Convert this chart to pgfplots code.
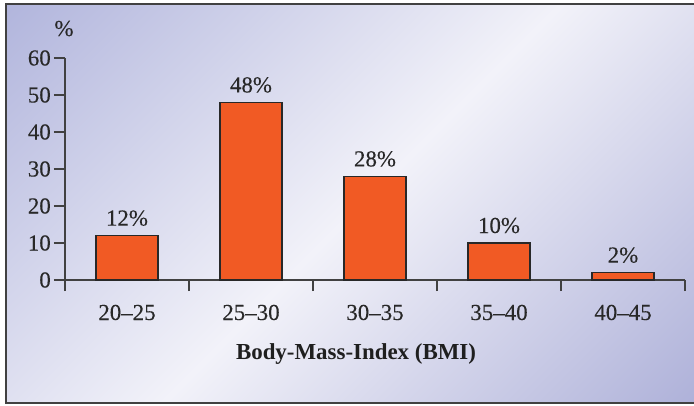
\documentclass[border=0pt]{standalone}
\usepackage{pgfplots}
\pgfplotsset{compat=1.18}
\usepackage{fontspec}
\setmainfont{Liberation Serif}
\newfontfamily\lbl{Liberation Serif}[FakeBold=0.2]

\definecolor{bgA}{RGB}{176,180,220}
\definecolor{bgW}{RGB}{242,242,249}
\definecolor{bgB}{RGB}{170,173,215}
\definecolor{barfill}{RGB}{241,90,36}
\definecolor{txt}{RGB}{40,40,40}
\definecolor{axcol}{RGB}{65,65,65}

\pgfdeclareverticalshading{bgshade}{100bp}{color(0bp)=(bgB); color(25bp)=(bgB); color(50bp)=(bgW); color(75bp)=(bgA); color(100bp)=(bgA)}

\begin{document}
\begin{tikzpicture}[x=1bp,y=1bp]
\useasboundingbox (0,0) rectangle (694,405);
% background panel, diagonal gradient
\begin{scope}
  \clip (6,2) rectangle (700,401);
  \begin{scope}[transform canvas={rotate around={45:(361,200)}}]
    \shade[shading=bgshade] (-39,-200) rectangle (761,600);
  \end{scope}
\end{scope}
\draw[axcol, line width=1.3bp] (700,2) -- (6,2) -- (6,401) -- (700,401);

\begin{axis}[
    at={(65bp,125bp)}, anchor=south west,
    scale only axis,
    width=620bp, height=222bp,
    xmin=-0.5, xmax=4.5,
    ymin=0, ymax=60,
    axis x line*=bottom,
    axis y line*=left,
    axis line style={axcol, line width=1.4bp},
    every tick/.style={axcol, line width=1.4bp},
    tick align=outside,
    major tick length=11bp,
    xtick={-0.5,0.5,...,4.5},
    xticklabels={},
    extra x ticks={0,1,2,3,4},
    extra x tick labels={20–25,25–30,30–35,35–40,40–45},
    extra x tick style={major tick length=0pt,
        xticklabel style={anchor=base, yshift=-40bp}},
    ytick={0,10,...,60},
    yticklabel style={inner sep=3bp},
    tick label style={font=\lbl\fontsize{23}{27}\selectfont, text=txt},
    /pgf/number format/assume math mode=true,
    ybar, bar width=62bp,
    clip=false,
    nodes near coords={\pgfmathprintnumber{\pgfplotspointmeta}\%},
    nodes near coords style={font=\lbl\fontsize{23}{27}\selectfont, text=txt, anchor=base, yshift=10bp},
]
\addplot[fill=barfill, draw=txt, line width=1.2bp] coordinates {(0,12) (1,48) (2,28) (3,10) (4,2)};
\end{axis}

\node[anchor=base, text=txt, font=\lbl\fontsize{23}{27}\selectfont] at (64,369) {\%};
\node[anchor=base, text=black!88, font=\bfseries\fontsize{23}{27}\selectfont] at (356,46) {Body-Mass-Index (BMI)};
\end{tikzpicture}
\end{document}
